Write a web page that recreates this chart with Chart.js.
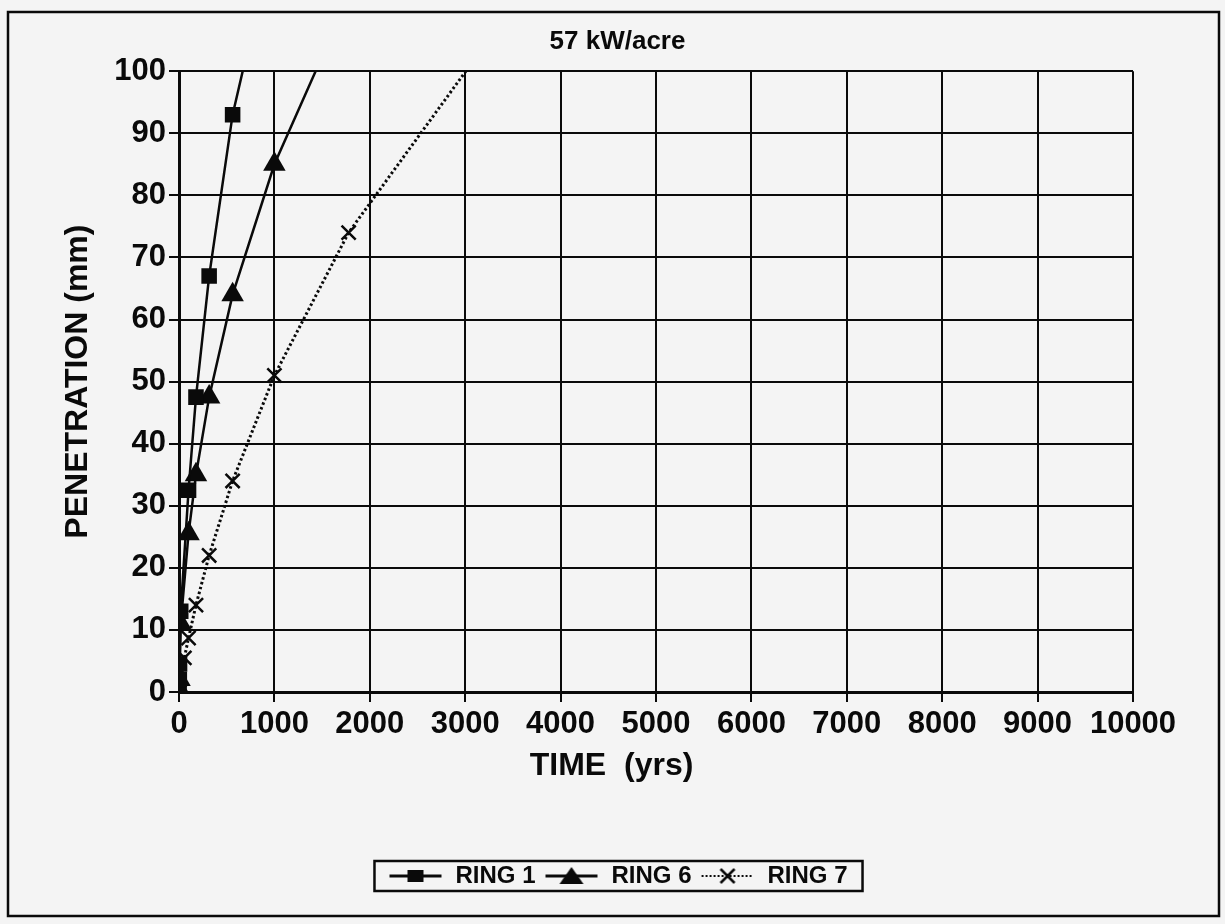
<!DOCTYPE html>
<html lang="en">
<head>
<meta charset="UTF-8">
<title>57 kW/acre</title>
<style>
    body {
        margin: 0;
        background: #f4f4f4;
    }
    .chart-box {
        width: 1225px;
        height: 924px;
    }
</style>
</head>
<body>
<div class="chart-box">
    <canvas id="penetrationChart"></canvas>
</div>
<script src="https://cdn.jsdelivr.net/npm/chart.js"></script>
<script>
// values (time in years, penetration in mm)
const ring1Time = [1, 3.2, 5.6, 18, 100, 178, 316, 562, 1000];
const ring1Depth = [0.5, 2, 4.5, 13, 32.5, 47.5, 67, 93, 122];

const ring6Time = [1, 5.6, 18, 100, 178, 316, 562, 1000, 1778];
const ring6Depth = [0.5, 2, 11, 25.5, 35, 47.5, 64, 85, 112];

const ring7Time = [1, 56, 100, 178, 316, 562, 1000, 1778, 3162];
const ring7Depth = [0, 5.5, 8.7, 14, 22, 34, 51, 74, 103.3];

const seriesNames = ['RING 1', 'RING 6', 'RING 7'];
const xTicks = [0, 1000, 2000, 3000, 4000, 5000, 6000, 7000, 8000, 9000, 10000];
const yTicks = [0, 10, 20, 30, 40, 50, 60, 70, 80, 90, 100];

const FONT = '"Liberation Sans", Arial, sans-serif';
const INK = '#0a0a0a';

function toPoints(xs, ys) {
    return xs.map((x, i) => ({ x: x, y: ys[i] }));
}

// little line + marker pictures for the legend
function legendIcon(kind) {
    const c = document.createElement('canvas');
    c.width = 56;
    c.height = 22;
    const g = c.getContext('2d');
    g.strokeStyle = INK;
    g.fillStyle = INK;
    g.lineWidth = kind === 'cross' ? 2 : 3;
    if (kind === 'cross') g.setLineDash([2, 2]);
    g.beginPath();
    g.moveTo(2, 11);
    g.lineTo(54, 11);
    g.stroke();
    g.setLineDash([]);
    if (kind === 'rect') {
        g.fillRect(20, 5, 16, 12);
    } else if (kind === 'triangle') {
        g.beginPath();
        g.moveTo(28, 2);
        g.lineTo(40, 19);
        g.lineTo(16, 19);
        g.closePath();
        g.fill();
    } else {
        g.lineWidth = 2.5;
        g.beginPath();
        g.moveTo(21, 4);
        g.lineTo(35, 18);
        g.moveTo(35, 4);
        g.lineTo(21, 18);
        g.stroke();
    }
    return c;
}
const legendIcons = [legendIcon('rect'), legendIcon('triangle'), legendIcon('cross')];

// background and the outer frame of the figure
const framePlugin = {
    id: 'frame',
    beforeDraw(chart) {
        const ctx = chart.ctx;
        ctx.save();
        ctx.fillStyle = '#f4f4f4';
        ctx.fillRect(0, 0, chart.width, chart.height);
        ctx.strokeStyle = INK;
        ctx.lineWidth = 2.5;
        ctx.strokeRect(8, 12, chart.width - 14, chart.height - 20);
        ctx.restore();
    },
    afterDraw(chart) {
        // box round the legend
        const boxes = chart.legend.legendHitBoxes;
        if (!boxes || !boxes.length) return;
        const left = Math.min(...boxes.map(b => b.left));
        const right = Math.max(...boxes.map(b => b.left + b.width));
        const top = Math.min(...boxes.map(b => b.top));
        const bottom = Math.max(...boxes.map(b => b.top + b.height));
        const ctx = chart.ctx;
        ctx.save();
        ctx.strokeStyle = INK;
        ctx.lineWidth = 2.5;
        ctx.strokeRect(left - 13, top - 3, right - left + 28, bottom - top + 6);
        ctx.restore();
    }
};

Chart.defaults.font.family = FONT;
Chart.defaults.font.weight = 'bold';
Chart.defaults.color = INK;

new Chart(document.getElementById('penetrationChart'), {
    type: 'line',
    data: {
        datasets: [
            {
                label: seriesNames[0],
                data: toPoints(ring1Time, ring1Depth),
                borderColor: INK,
                backgroundColor: INK,
                borderWidth: 2.5,
                pointStyle: 'rect',
                pointRadius: 11,
                pointBorderWidth: 0,
                tension: 0
            },
            {
                label: seriesNames[1],
                data: toPoints(ring6Time, ring6Depth),
                borderColor: INK,
                backgroundColor: INK,
                borderWidth: 2.5,
                pointStyle: 'triangle',
                pointRadius: 13,
                pointBorderWidth: 0,
                tension: 0
            },
            {
                label: seriesNames[2],
                data: toPoints(ring7Time, ring7Depth),
                borderColor: INK,
                backgroundColor: INK,
                borderWidth: 3,
                borderDash: [2.5, 2.5],
                pointStyle: 'crossRot',
                pointRadius: 10,
                pointBorderWidth: 2.5,
                tension: 0
            }
        ]
    },
    options: {
        responsive: true,
        maintainAspectRatio: false,
        animation: false,
        layout: {
            padding: { top: 14, left: 10, right: 0, bottom: 26 }
        },
        plugins: {
            title: {
                display: true,
                text: '57 kW/acre',
                font: { size: 26, weight: 'bold' },
                color: INK,
                padding: { top: 12, bottom: 14 }
            },
            legend: {
                position: 'bottom',
                labels: {
                    usePointStyle: true,
                    pointStyleWidth: 56,
                    padding: 8,
                    font: { size: 24, weight: 'bold' },
                    color: INK,
                    generateLabels(chart) {
                        const items = Chart.defaults.plugins.legend.labels.generateLabels(chart);
                        return items.map((item, i) => ({ ...item, pointStyle: legendIcons[i] }));
                    }
                }
            },
            tooltip: { enabled: false }
        },
        scales: {
            x: {
                type: 'linear',
                min: 0,
                max: 10000,
                afterBuildTicks(scale) {
                    scale.ticks = xTicks.map(v => ({ value: v }));
                },
                afterFit(scale) {
                    scale.height = 164;
                },
                ticks: {
                    padding: 4,
                    font: { size: 31, weight: 'bold' },
                    color: INK,
                    maxRotation: 0,
                    callback: v => String(v)
                },
                grid: {
                    color: INK,
                    lineWidth: 2,
                    tickLength: 10
                },
                border: { color: INK, width: 3 },
                title: {
                    display: true,
                    // trailing spaces keep it centred on the whole figure like the original
                    text: 'TIME  (yrs)' + '\u00a0'.repeat(10),
                    font: { size: 32, weight: 'bold' },
                    color: INK,
                    padding: { top: 0, bottom: 71 }
                }
            },
            y: {
                min: 0,
                max: 100,
                afterBuildTicks(scale) {
                    scale.ticks = yTicks.map(v => ({ value: v }));
                },
                afterFit(scale) {
                    scale.width = 169;
                },
                ticks: {
                    padding: 3,
                    font: { size: 31, weight: 'bold' },
                    color: INK
                },
                grid: {
                    color: INK,
                    lineWidth: 2,
                    tickLength: 10
                },
                border: { color: INK, width: 3 },
                title: {
                    display: true,
                    text: 'PENETRATION (mm)',
                    font: { size: 32, weight: 'bold' },
                    color: INK,
                    padding: { top: 49, bottom: 0 }
                }
            },
            // empty right-hand margin, so the title and legend centre on the figure
            yRight: {
                position: 'right',
                min: 0,
                max: 100,
                afterFit(scale) {
                    scale.width = 92;
                },
                ticks: { display: false },
                grid: { display: false },
                border: { display: false }
            }
        }
    },
    plugins: [framePlugin]
});
</script>
</body>
</html>
